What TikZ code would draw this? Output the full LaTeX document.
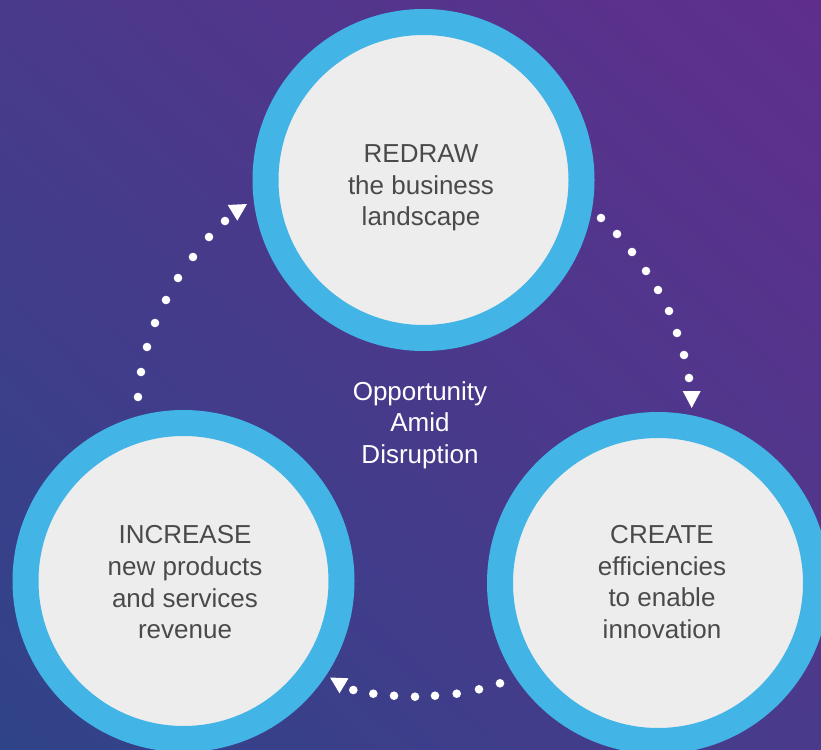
\documentclass[tikz,border=0pt]{standalone}
\usepackage{fontspec}
\setmainfont{Liberation Sans}
\usetikzlibrary{shadings}
\definecolor{ringblue}{HTML}{42B4E6}
\definecolor{discgray}{HTML}{EDEDED}
\definecolor{inktext}{HTML}{4A4A4A}
\definecolor{bgTL}{HTML}{4A3A8B}
\definecolor{bgTR}{HTML}{5F2E8D}
\definecolor{bgBL}{HTML}{2F4389}
\definecolor{bgBR}{HTML}{4A3A8C}
\begin{document}
\begin{tikzpicture}[x=1pt,y=-1pt,
  ring/.style={circle, draw=ringblue, fill=discgray, line width=26pt,
    minimum size=316pt, inner sep=0pt, outer sep=0pt},
  caption/.style={font=\fontsize{26}{31.7}\selectfont, text=inktext,
    align=center, inner sep=0pt, anchor=north},
  flowdot/.style={fill=white, draw=none},
  flowtip/.style={fill=white, draw=none}]

% canvas and background gradient (blue lower left to violet upper right)
\useasboundingbox (0,0) rectangle (821,749);
\begin{scope}[y=1pt]
  \shade[upper left=bgTL, upper right=bgTR, lower left=bgBL, lower right=bgBR]
    (0,-749) rectangle (821,0);
\end{scope}

% the three stages
\node[ring] (redraw)   at (423.5,180) {};
\node[ring] (increase) at (183.5,581) {};
\node[ring] (create)   at (658,583)   {};

\node[caption] (redrawtxt)   at (421,144.4) {REDRAW\\the business\\landscape};
\node[caption] (increasetxt) at (185,525.4) {INCREASE\\new products\\and services\\revenue};
\node[caption] (createtxt)   at (662,525.1) {CREATE\\efficiencies\\to enable\\innovation};
\node[caption, text=white] (hub) at (420,381.1) {Opportunity\\Amid\\Disruption};

% dotted cycle: increase -> redraw
\foreach \p in {(138,397),(141,372),(147,347),(155,323),(166,300),
                (178,278),(193,257),(209,237),(225,221)}
  \fill[flowdot] \p circle[radius=4.3];
\coordinate (tipA) at (237.3,220.7);
\fill[flowtip] (227.7,205) -- (247,204) -- (tipA) -- cycle;

% dotted cycle: redraw -> create
\foreach \p in {(601,218),(617,234),(632,252),(646,271),(658,290),
                (669,311),(677,333),(684,355),(689,378)}
  \fill[flowdot] \p circle[radius=4.3];
\coordinate (tipB) at (691.7,408);
\fill[flowtip] (682.7,391) -- (700.7,391) -- (tipB) -- cycle;

% dotted cycle: create -> increase
\foreach \p in {(500,683.3),(479,689.3),(456.7,693.7),(435,695.7),
                (415,696.7),(394,695.7),(373.3,693.7),(353.3,690)}
  \fill[flowdot] \p circle[radius=4.3];
\coordinate (tipC) at (339.5,693.3);
\fill[flowtip] (330,677.5) -- (348.5,678.3) -- (tipC) -- cycle;

\end{tikzpicture}
\end{document}
